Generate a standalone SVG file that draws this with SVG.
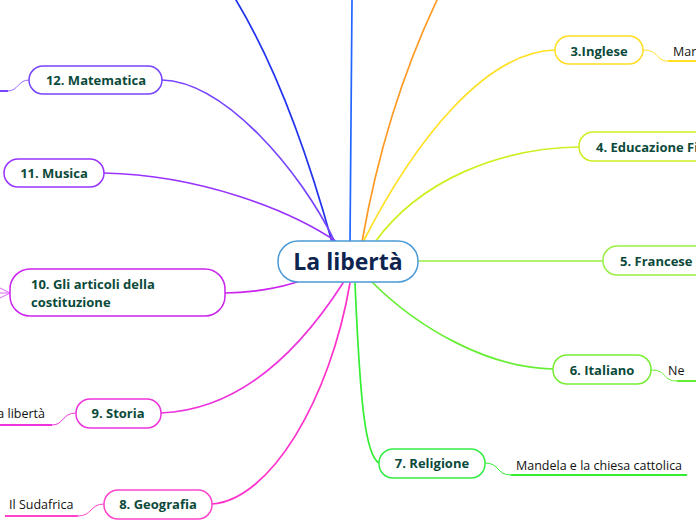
<svg xmlns="http://www.w3.org/2000/svg" width="696" height="520" viewBox="0 0 696 520">
<style>
.n{fill:#fff;stroke-width:1.5}
.t{font-family:"Open Sans","Noto Sans",sans-serif;font-weight:bold;font-size:13px;fill:#0b4a3a}
.c{font-family:"Open Sans","Noto Sans",sans-serif;font-size:12.5px;fill:#111}
.l{fill:none;stroke-width:1.7;stroke-linecap:round}
.s{fill:none;stroke-width:1}
.u{fill:none;stroke-width:2}
</style>
<rect width="696" height="520" fill="#fff"/>
<g id="connectors">
<path class="l" stroke="#2233ee" d="M236,0 Q290,90 332,242"/>
<path class="l" stroke="#2266ff" d="M352,0 L350,242"/>
<path class="l" stroke="#ff9922" d="M437,0 Q385,110 362,242"/>
<path class="l" stroke="#ffe022" d="M555,50 C485,52 415,140 363,242"/>
<path class="l" stroke="#ccf022" d="M579,147 C500,148 420,180 375,242"/>
<path class="l" stroke="#99ee44" d="M418,261 L603,261"/>
<path class="l" stroke="#66ee33" d="M553,369 C490,368 420,330 372,282"/>
<path class="l" stroke="#33ee33" d="M379,463 C365,455 360,400 355,283"/>
<path class="l" stroke="#ff33cc" d="M212,504 C270,500 330,400 350,283"/>
<path class="l" stroke="#ee33dd" d="M161,413 C240,410 300,350 343,283"/>
<path class="l" stroke="#cc22ee" d="M225,293 C250,293 280,288 300,281"/>
<path class="l" stroke="#9933ff" d="M104,173 C200,175 290,210 337,242"/>
<path class="l" stroke="#7744ff" d="M162,80 C225,82 300,170 335,242"/>
<path class="s" stroke="#ffe022" d="M643,50 C660,50 655,61 668,61"/>
<path class="u" stroke="#ffe022" d="M668,61 L696,61"/>
<path class="s" stroke="#66ee33" d="M651,370 C668,370 662,381 677,381"/>
<path class="u" stroke="#66ee33" d="M677,381 L696,381"/>
<path class="s" stroke="#33ee33" d="M485,463 C500,463 496,475 511,475"/>
<path class="u" stroke="#33ee33" d="M511,475 L687,475"/>
<path class="s" stroke="#ff44cc" d="M104,504 C90,504 92,516 78,516"/>
<path class="u" stroke="#ff44cc" d="M5,516 L78,516"/>
<path class="s" stroke="#ee33dd" d="M76,413 C62,413 64,425 52,425"/>
<path class="u" stroke="#ee33dd" d="M0,425 L52,425"/>
<path class="s" stroke="#9966ff" d="M29,80 C18,80 18,91 8,91"/>
<path class="u" stroke="#7744ff" d="M0,91 L8,91"/>
<path class="s" stroke="#dd66ff" d="M10,293 L0,288 M10,293 L0,293 M10,293 L0,298"/>
</g>
<g id="center">
<rect x="278" y="241" width="140" height="41" rx="20" fill="#fff" stroke="#4a9ad6" stroke-width="1.5"/>
<text x="348" y="270" text-anchor="middle" font-family="Open Sans, Noto Sans, sans-serif" font-weight="bold" font-size="23" fill="#0d2450">La libertà</text>
</g>
<g id="n12"><rect class="n" stroke="#7744ff" x="29" y="66" width="133" height="28" rx="14"/><text class="t" x="96" y="85" text-anchor="middle">12. Matematica</text></g>
<g id="n11"><rect class="n" stroke="#9933ff" x="4" y="159" width="100" height="28" rx="14"/><text class="t" x="54" y="178" text-anchor="middle">11. Musica</text></g>
<g id="n10"><rect class="n" stroke="#cc22ee" x="10" y="269" width="215" height="47" rx="20"/><text class="t" x="31" y="289">10. Gli articoli della</text><text class="t" x="31" y="307">costituzione</text></g>
<g id="n9"><rect class="n" stroke="#ee33dd" x="76" y="399" width="85" height="29" rx="14"/><text class="t" x="118" y="418" text-anchor="middle">9. Storia</text></g>
<g id="n9c"><text class="c" x="45" y="418" text-anchor="end">la libertà</text></g>
<g id="n8"><rect class="n" stroke="#ff44cc" x="104" y="490" width="108" height="29" rx="14"/><text class="t" x="158" y="509" text-anchor="middle">8. Geografia</text></g>
<g id="n8c"><text class="c" x="9" y="509">Il Sudafrica</text></g>
<g id="n7"><rect class="n" stroke="#33ee44" x="379" y="449" width="106" height="29" rx="14"/><text class="t" x="432" y="468" text-anchor="middle">7. Religione</text></g>
<g id="n7c"><text class="c" x="516" y="470">Mandela e la chiesa cattolica</text></g>
<g id="n6"><rect class="n" stroke="#77ee33" x="553" y="355" width="98" height="29" rx="14"/><text class="t" x="602" y="375" text-anchor="middle">6. Italiano</text></g>
<g id="n6c"><text class="c" x="668" y="375">Ne</text></g>
<g id="n5"><rect class="n" stroke="#99ee44" x="603" y="246" width="110" height="29" rx="14"/><text class="t" x="620" y="266">5. Francese</text></g>
<g id="n4"><rect class="n" stroke="#ccee22" x="579" y="132" width="140" height="29" rx="14"/><text class="t" x="596" y="152">4. Educazione Fi</text></g>
<g id="n3"><rect class="n" stroke="#ffdd22" x="555" y="36" width="88" height="28" rx="14"/><text class="t" x="599" y="56" text-anchor="middle">3.Inglese</text></g>
<g id="n3c"><text class="c" x="673" y="56">Mar</text></g>
</svg>
